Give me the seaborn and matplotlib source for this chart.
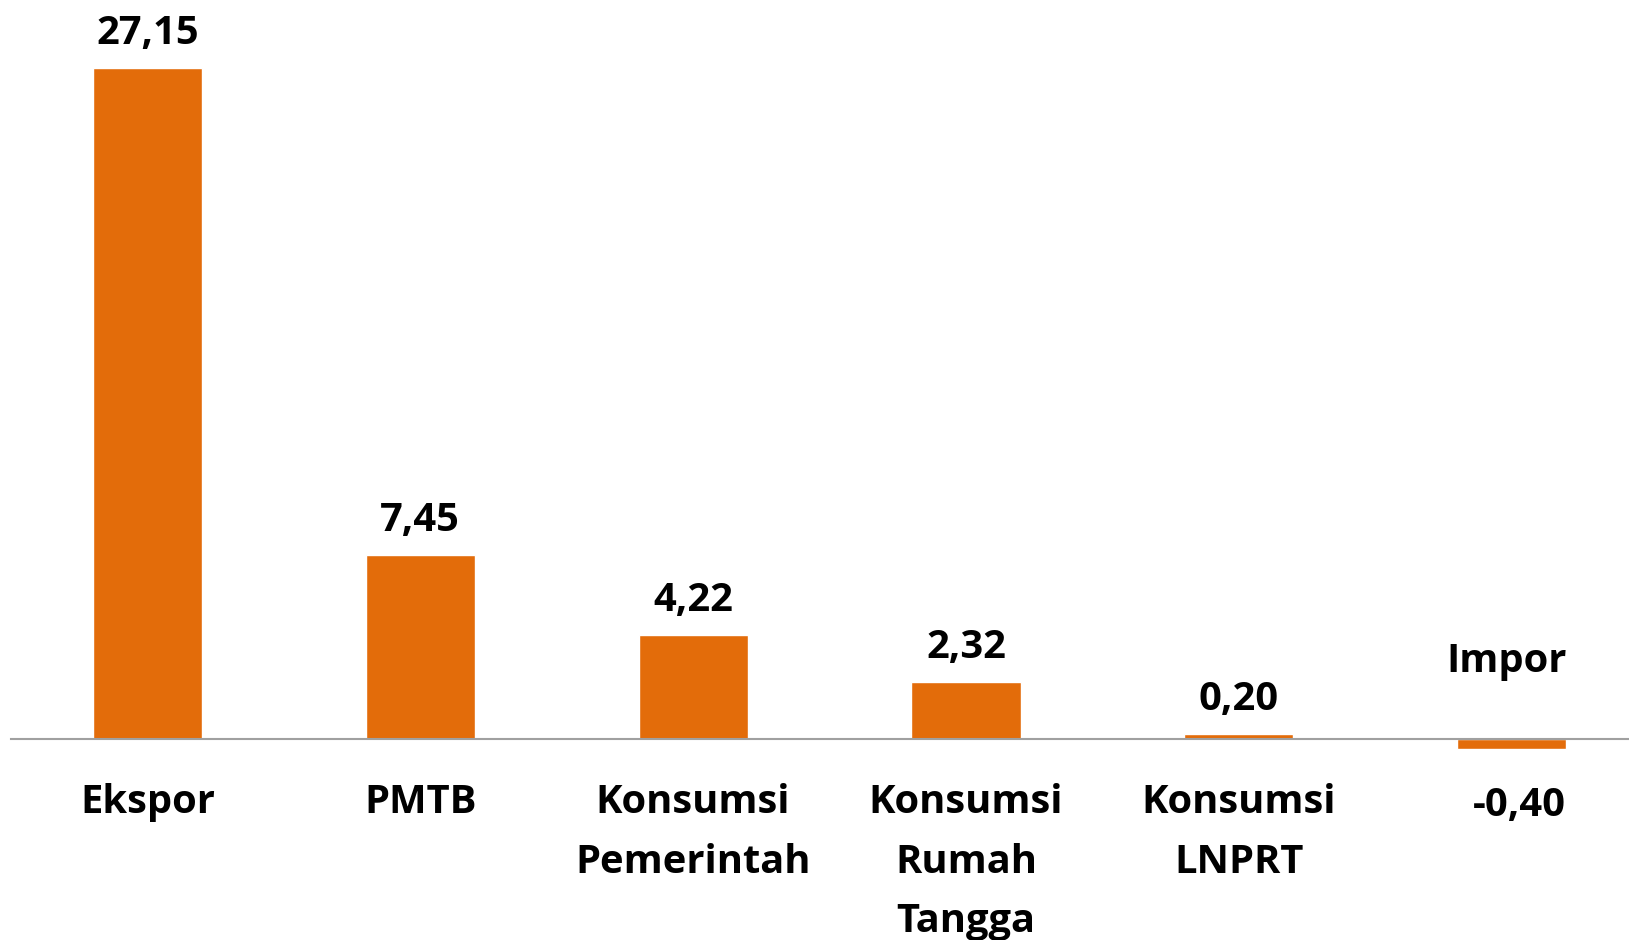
import matplotlib
matplotlib.use('Agg')
import matplotlib.pyplot as plt
import seaborn as sns
import pandas as pd

# Data
kategori = ['Ekspor', 'PMTB', 'Konsumsi\nPemerintah', 'Konsumsi\nRumah\nTangga', 'Konsumsi\nLNPRT', 'Impor']
nilai = [27.15, 7.45, 4.22, 2.32, 0.20, -0.40]
label_nilai = ['27,15', '7,45', '4,22', '2,32', '0,20', '-0,40']

df = pd.DataFrame({'kategori': kategori, 'nilai': nilai})

sns.set_style('white')
plt.rcParams['font.family'] = ['Open Sans', 'DejaVu Sans']

fig = plt.figure(figsize=(16.29, 9.40), dpi=100)
ax = fig.add_axes([11 / 1629, 0, 1618 / 1629, 1])

sns.barplot(data=df, x='kategori', y='nilai', color='#E36C0A', width=0.4,
            saturation=1, ax=ax)

ax.set_xlim(-0.5, 5.43)
ax.set_ylim(-8.13, 29.9)

for s in ['top', 'right', 'left']:
    ax.spines[s].set_visible(False)
ax.spines['bottom'].set_position(('data', 0))
ax.spines['bottom'].set_color('#A0A0A0')
ax.spines['bottom'].set_linewidth(1.5)
ax.set_yticks([])
ax.set_xlabel('')
ax.set_ylabel('')

fs = 28.7
# category labels (Impor is drawn above the axis)
ax.set_xticks(range(len(kategori)))
ax.set_xticklabels([k if k != 'Impor' else '' for k in kategori],
                   fontsize=fs, fontweight='bold', linespacing=1.67, color='black')
ax.tick_params(axis='x', length=0, pad=32)

for i, (v, t) in enumerate(zip(nilai, label_nilai)):
    if v >= 0:
        ax.text(i, v + 1.4, t, ha='center', va='center', fontsize=fs,
                fontweight='bold', color='black')
    else:
        ax.text(i + 0.03, -2.68, t, ha='center', va='center', fontsize=fs,
                fontweight='bold', color='black')
        ax.text(i - 0.02, 3.12, kategori[i], ha='center', va='center', fontsize=fs,
                fontweight='bold', color='black')

fig.savefig('out.png', dpi=100)
